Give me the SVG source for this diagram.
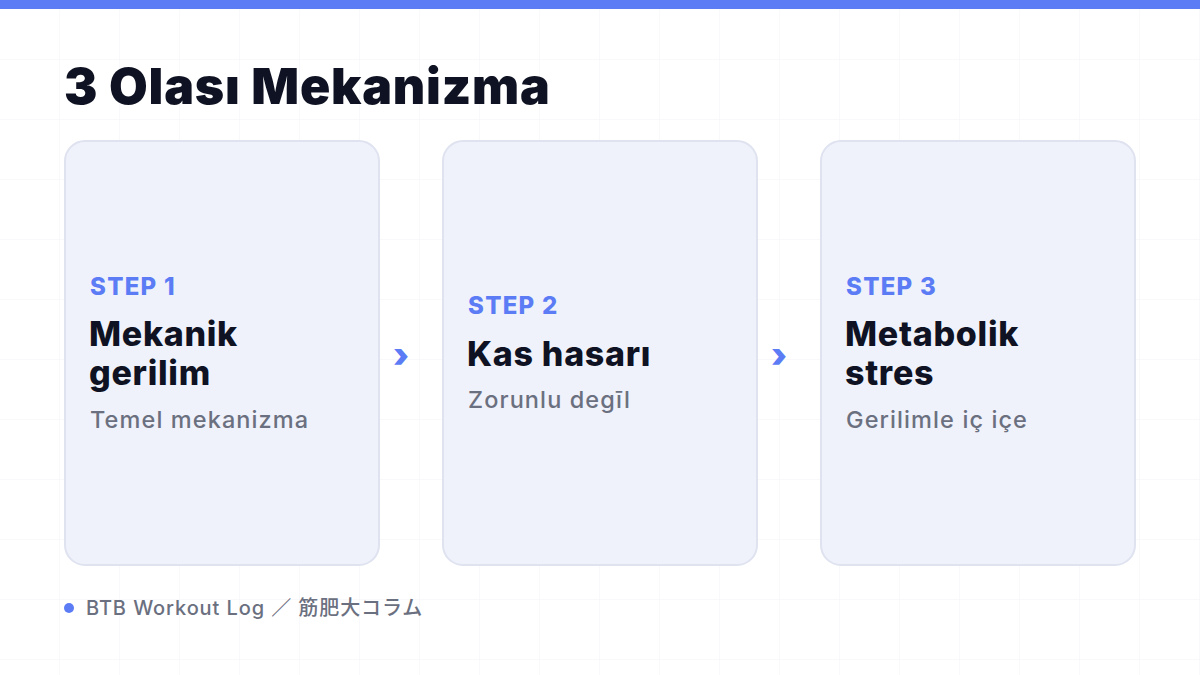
<svg xmlns="http://www.w3.org/2000/svg" width="1200" height="675" viewBox="0 0 1200 675">
<defs>
<pattern id="grid" width="60" height="60" patternUnits="userSpaceOnUse">
<path d="M60 0V60M0 60H60" fill="none" stroke="#f2f3f7" stroke-width="1"/>
</pattern>
</defs>
<style>
.card{fill:#f0f2fb;stroke:#dfe3f0;stroke-width:2}
.step{font-family:Inter,"Liberation Sans",sans-serif;font-weight:800;font-size:24px;letter-spacing:1.3px;fill:#5b7cf5}
.head{font-family:Inter,"Liberation Sans",sans-serif;font-weight:800;font-size:34px;letter-spacing:0.7px;fill:#0f1222}
.sub{font-family:Inter,"Liberation Sans",sans-serif;font-weight:500;font-size:23.5px;letter-spacing:1.1px;fill:#6b7080}
.arrow{font-family:Inter,"Liberation Sans",sans-serif;font-weight:900;font-size:34px;fill:#5b7cf5;text-anchor:middle}
</style>
<rect width="1200" height="675" fill="#ffffff"/>
<rect width="1200" height="675" fill="url(#grid)"/>
<rect x="0" y="0" width="1200" height="9" fill="#5b7cf5"/>
<text x="64" y="104" font-family="Inter,'Liberation Sans',sans-serif" font-weight="900" font-size="50" letter-spacing="0.8" fill="#0f1222">3 Olası Mekanizma</text>
<g id="connectors">
<text class="arrow" x="401" y="367">›</text>
<text class="arrow" x="779" y="367">›</text>
</g>
<g id="step1">
<rect class="card" x="65" y="141" width="314" height="424" rx="20"/>
<text class="step" x="90" y="295">STEP 1</text>
<text class="head" x="89" y="346">Mekanik</text>
<text class="head" x="89" y="385">gerilim</text>
<text class="sub" x="90" y="428">Temel mekanizma</text>
</g>
<g id="step2">
<rect class="card" x="443" y="141" width="314" height="424" rx="20"/>
<text class="step" x="468" y="314">STEP 2</text>
<text class="head" x="467" y="366">Kas hasarı</text>
<text class="sub" x="468" y="408">Zorunlu degīl</text>
</g>
<g id="step3">
<rect class="card" x="821" y="141" width="314" height="424" rx="20"/>
<text class="step" x="846" y="295">STEP 3</text>
<text class="head" x="845" y="346">Metabolik</text>
<text class="head" x="845" y="385">stres</text>
<text class="sub" x="846" y="428">Gerilimle iç içe</text>
</g>
<g id="footer">
<circle cx="69" cy="608" r="5" fill="#5b7cf5"/>
<text x="86" y="615" font-family="Inter,'Liberation Sans','Noto Sans CJK JP',sans-serif" font-weight="500" font-size="20" letter-spacing="0.9" fill="#6b7080">BTB Workout Log ／ 筋肥大コラム</text>
</g>
</svg>
